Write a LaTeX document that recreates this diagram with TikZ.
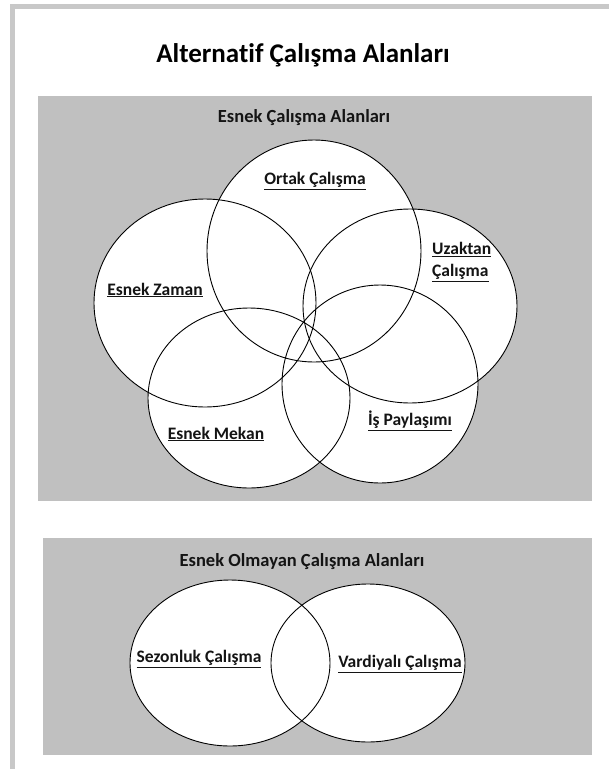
\documentclass[tikz,border=0pt]{standalone}
\usepackage{fontspec}
\setmainfont{Carlito}[Ligatures=NoCommon]
\definecolor{panel}{HTML}{C0C0C0}
\definecolor{frame}{HTML}{C8C8C8}
\definecolor{ink}{HTML}{141414}
\tikzset{
  hdr/.style={font=\bfseries\fontsize{18.5}{22}\selectfont, text=ink, inner sep=0pt},
  lbl/.style={font=\bfseries\fontsize{17.5}{21}\selectfont, text=ink, inner sep=0pt},
  ttl/.style={font=\bfseries\fontsize{27}{31}\selectfont, text=black, inner sep=0pt},
  ring/.style={draw=black, line width=0.9pt},
}
\begin{document}
\begin{tikzpicture}[x=1pt,y=-1pt]
\useasboundingbox (0,0) rectangle (609,769);
\fill[white] (0,0) rectangle (609,769);
% frame
\fill[frame] (10,4) rectangle (609,9);
\fill[frame] (10,4) rectangle (15,769);
% panels
\fill[panel] (38,96) rectangle (592,501);
\fill[panel] (43,538) rectangle (592,755);
% ellipses: fill then outline
\foreach \cx/\cy/\rx/\ry in {314/251/107/111, 205/303/111/104, 410/306/107/97, 249/398/101/90, 380/384/98/99, 230/663/100/83, 368/663/97/79}
  \fill[white] (\cx,\cy) ellipse [x radius=\rx pt, y radius=\ry pt];
\foreach \cx/\cy/\rx/\ry in {314/251/107/111, 205/303/111/104, 410/306/107/97, 249/398/101/90, 380/384/98/99, 230/663/100/83, 368/663/97/79}
  \draw[ring] (\cx,\cy) ellipse [x radius=\rx pt, y radius=\ry pt];
% texts
\node[ttl] (title) at (303,55) {Alternatif Çalışma Alanları};
\node[hdr] (hflex) at (304,118) {Esnek Çalışma Alanları};
\node[lbl] (ortak) at (315,181) {\underline{Ortak Çalışma}};
\node[lbl] (zaman) at (155,290) {\underline{Esnek Zaman}};
\node[lbl, anchor=west, align=left] (uzak) at (432,262) {\underline{Uzaktan}\\[1pt]\underline{Çalışma}};
\node[lbl] (mekan) at (216,434) {\underline{Esnek Mekan}};
\node[lbl] (pay) at (410,421) {\underline{İş Paylaşımı}};
\node[hdr] (hfix) at (302,562) {Esnek Olmayan Çalışma Alanları};
\node[lbl] (sez) at (199,659) {\underline{Sezonluk Çalışma}};
\node[lbl] (var) at (400,664) {\underline{Vardiyalı Çalışma}};
\end{tikzpicture}
\end{document}
